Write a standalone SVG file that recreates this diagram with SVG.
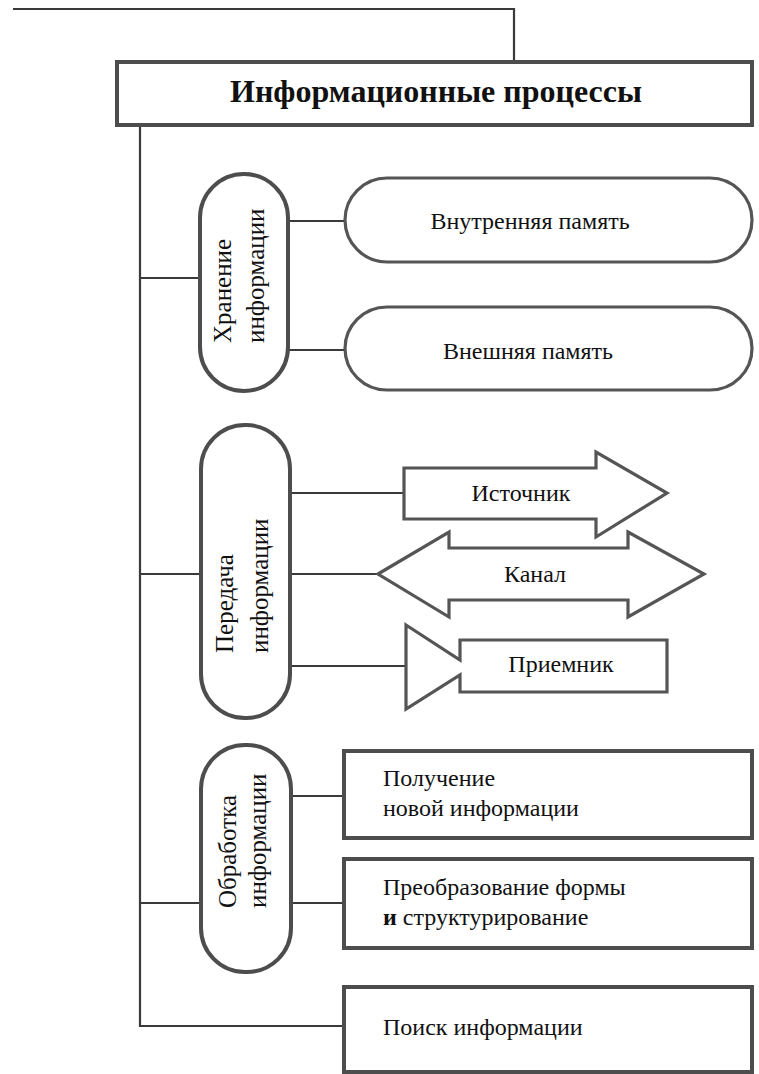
<svg xmlns="http://www.w3.org/2000/svg" width="759" height="1074" viewBox="0 0 759 1074">
<style>
.bg{fill:#ffffff}
.line{fill:none;stroke:#3a3a3a;stroke-width:2.2}
.box{fill:#ffffff;stroke:#4d4d4d;stroke-width:4}
.shape{fill:#ffffff;stroke:#555555;stroke-width:3.2;stroke-linejoin:miter}
.t{font-family:"Liberation Serif","DejaVu Serif Condensed","DejaVu Serif",serif;font-size:24px;fill:#111111}
.tv{font-family:"Liberation Serif","DejaVu Serif Condensed","DejaVu Serif",serif;font-size:25px;fill:#111111}
.title{font-family:"Liberation Serif","DejaVu Serif Condensed","DejaVu Serif",serif;font-size:32px;font-weight:bold;fill:#111111}
.c{text-anchor:middle}
</style>
<rect class="bg" x="0" y="0" width="759" height="1074"/>
<g id="connectors">
<path class="line" d="M13,9 H514 V62"/>
<path class="line" d="M140,125 V1026 H344"/>
<path class="line" d="M140,278 H200"/>
<path class="line" d="M140,574 H201"/>
<path class="line" d="M140,903 H201"/>
<path class="line" d="M288,221 H345"/>
<path class="line" d="M288,350 H345"/>
<path class="line" d="M290,493 H404"/>
<path class="line" d="M290,574 H378"/>
<path class="line" d="M290,666 H406"/>
<path class="line" d="M291,796 H344"/>
<path class="line" d="M291,903 H344"/>
</g>
<g id="title">
<rect class="box" x="117" y="62" width="635" height="63"/>
<text class="title c" x="436" y="102">Информационные процессы</text>
</g>
<g id="storage">
<rect class="box" x="200" y="174" width="88" height="217" rx="44"/>
<text class="tv" transform="translate(231,343) rotate(-90)">Хранение</text>
<text class="tv" transform="translate(264,343) rotate(-90)">информации</text>
</g>
<g id="internal-memory">
<rect class="shape" x="345" y="178" width="407" height="84" rx="42"/>
<text class="t c" x="530" y="229">Внутренняя память</text>
</g>
<g id="external-memory">
<rect class="shape" x="345" y="307" width="407" height="83" rx="42"/>
<text class="t c" x="528" y="359">Внешняя память</text>
</g>
<g id="transfer">
<rect class="box" x="201" y="425" width="89" height="293" rx="44"/>
<text class="tv" transform="translate(233,653) rotate(-90)">Передача</text>
<text class="tv" transform="translate(268,653) rotate(-90)">информации</text>
</g>
<g id="source">
<polygon class="shape" points="404,468 596,468 596,452 667,493 596,537 596,519 404,519"/>
<text class="t c" x="521" y="501">Источник</text>
</g>
<g id="channel">
<polygon class="shape" points="378,574 449,532 449,548 628,548 628,532 704,574 628,617 628,600 449,600 449,617"/>
<text class="t c" x="535" y="582">Канал</text>
</g>
<g id="receiver">
<polygon class="shape" points="406,625 460,660 460,640 667,640 667,692 460,692 460,675 406,709"/>
<text class="t c" x="561" y="672">Приемник</text>
</g>
<g id="processing">
<rect class="box" x="201" y="745" width="90" height="227" rx="44"/>
<text class="tv" transform="translate(236,908) rotate(-90)">Обработка</text>
<text class="tv" transform="translate(266,908) rotate(-90)">информации</text>
</g>
<g id="new-info">
<rect class="box" x="344" y="751" width="408" height="87"/>
<text class="t" x="383" y="786">Получение</text>
<text class="t" x="383" y="816">новой информации</text>
</g>
<g id="transform">
<rect class="box" x="344" y="859" width="408" height="89"/>
<text class="t" x="383" y="895">Преобразование формы</text>
<text class="t" x="383" y="925"><tspan font-weight="bold">и</tspan> структурирование</text>
</g>
<g id="search">
<rect class="box" x="344" y="987" width="408" height="85"/>
<text class="t" x="383" y="1035">Поиск информации</text>
</g>
</svg>
